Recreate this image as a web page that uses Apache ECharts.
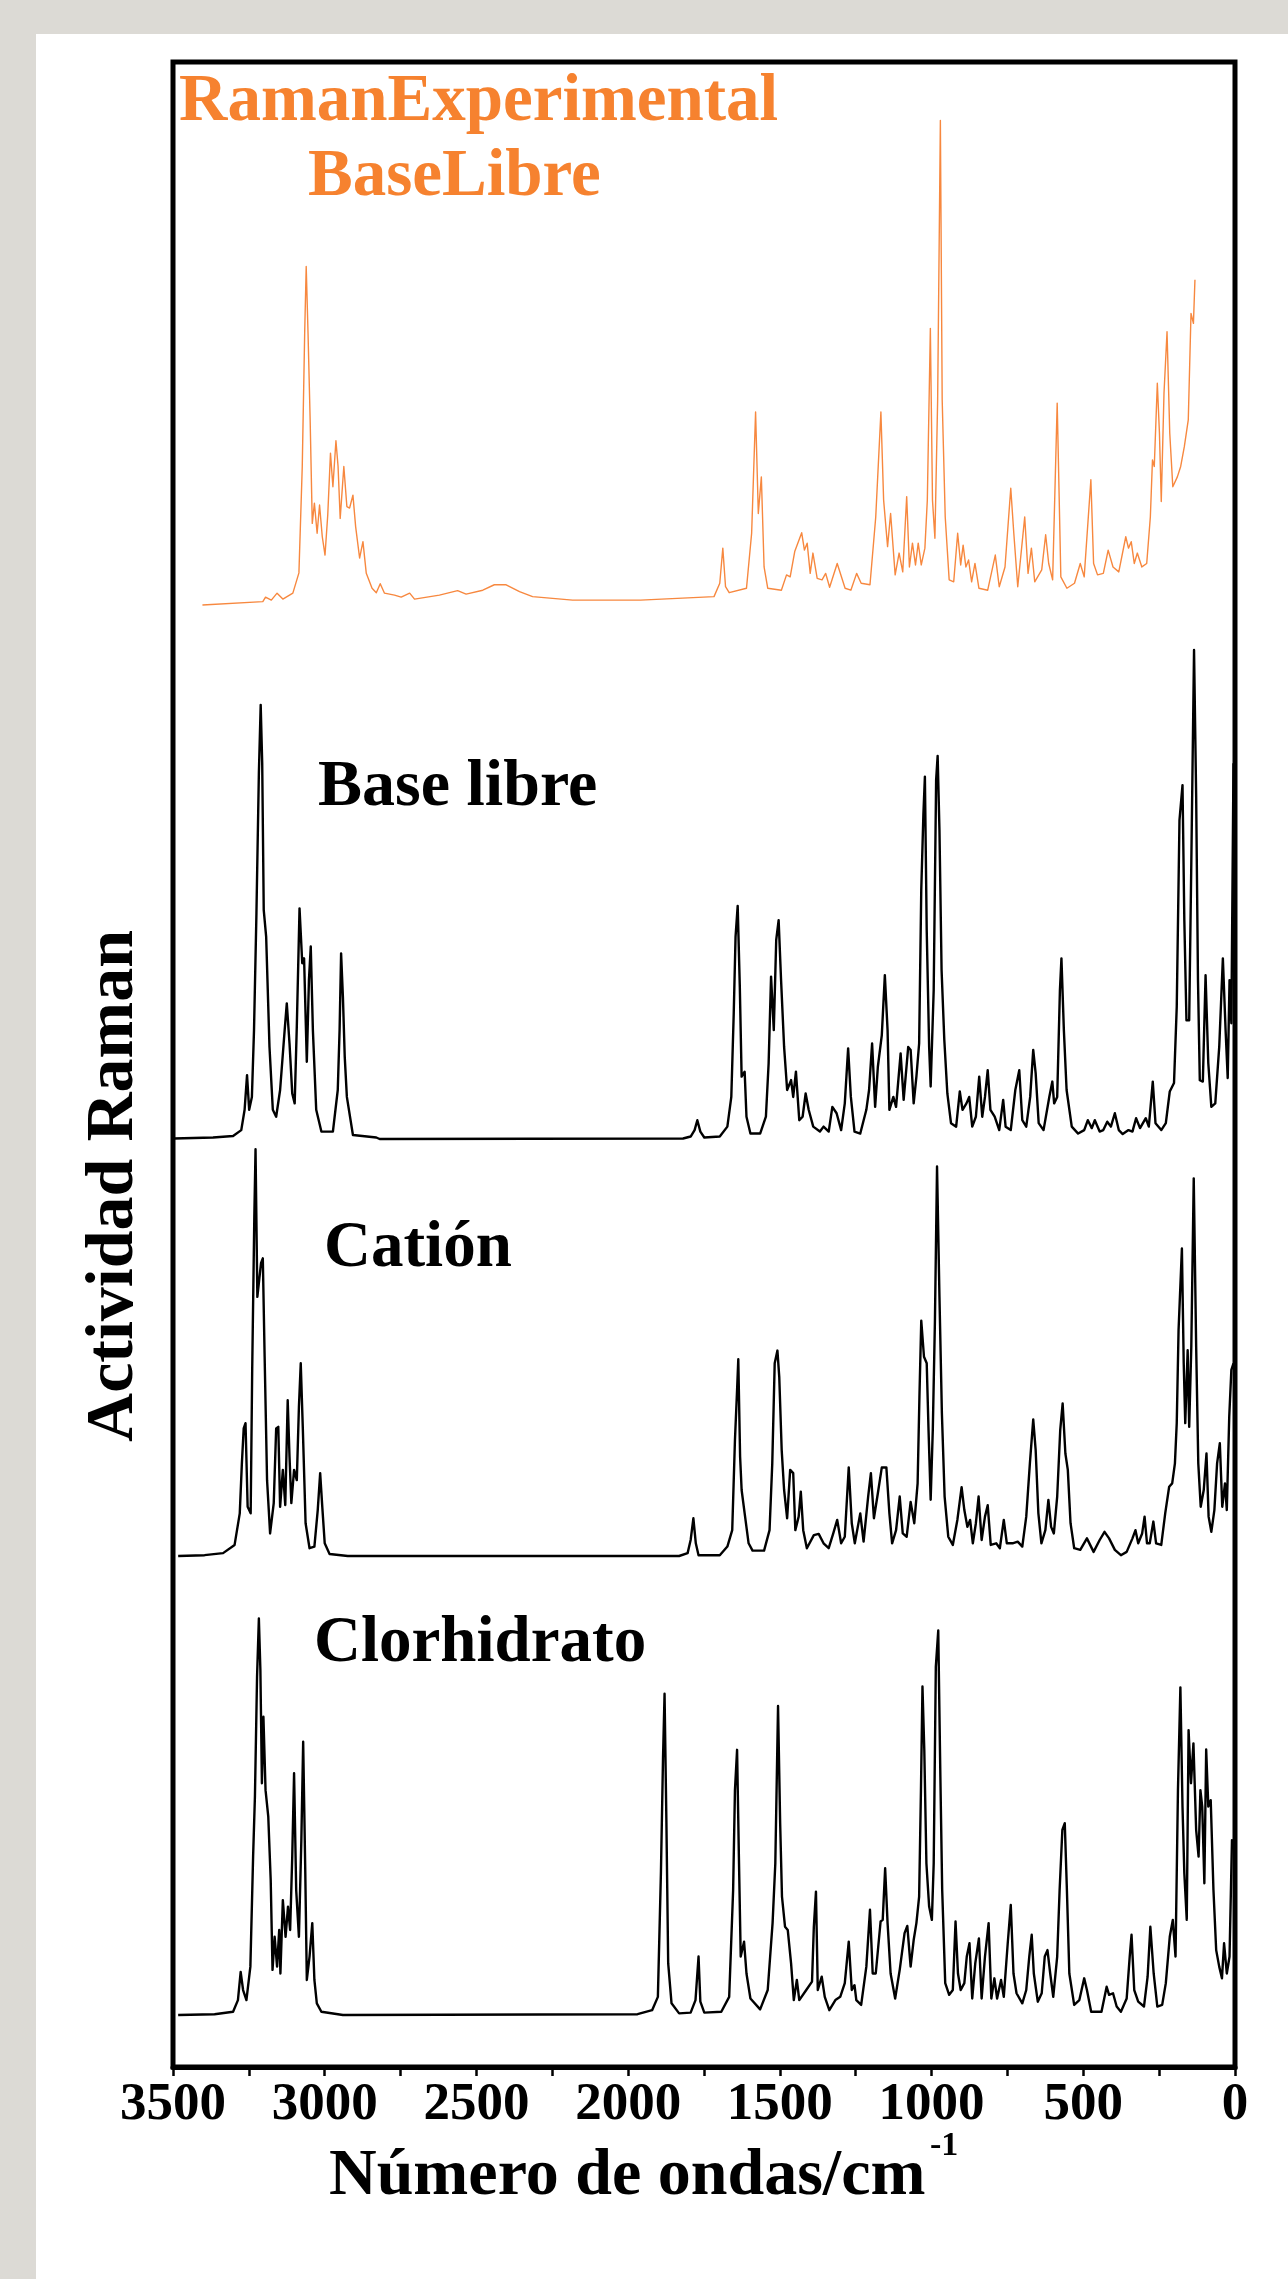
<!DOCTYPE html>
<html>
<head>
<meta charset="utf-8">
<title>Actividad Raman</title>
<script src="https://cdn.jsdelivr.net/npm/echarts@6/dist/echarts.min.js"></script>
<style>
  html, body { margin: 0; padding: 0; background: #dcdad5; }
  #panel { position: absolute; left: 36px; top: 34px; width: 1252px; height: 2245px; background: #fff; }
  #chart { position: absolute; left: 0; top: 0; width: 1288px; height: 2279px; }
</style>
</head>
<body>
<div id="panel"></div>
<div id="chart"></div>
<script>
// eje x: número de ondas (cm-1), invertido
const xRange = [0, 3500];
const xTickStep = 500;

// [número de ondas, intensidad relativa 0-100]
const ramanExperimental = [
  [3403,1.0],[3204,1.7],[3195,2.6],[3176,2.0],[3157,3.4],[3138,2.2],[3105,3.4],[3085,7.5],[3074,29],[3066,56],
  [3061,69.4],[3055,56],[3048,38.4],[3041,17.5],[3034,21.6],[3025,15.5],[3017,21.2],[3008,14.8],[2999,11.1],[2990,19.2],
  [2981,31.7],[2973,24.9],[2963,34.2],[2956,29],[2949,18.5],[2937,29],[2927,20.9],[2918,20.6],[2907,23.2],[2898,16.8],
  [2885,10.5],[2874,13.8],[2863,7.4],[2844,4.4],[2830,3.5],[2817,5.3],[2803,3.4],[2770,3.0],[2748,2.6],[2720,3.4],
  [2704,2.2],[2622,3.0],[2562,3.9],[2534,3.2],[2479,4.0],[2441,5.1],[2402,5.1],[2358,3.7],[2315,2.7],[2183,2.0],
  [1959,2.0],[1717,2.7],[1698,5.4],[1688,12.5],[1679,4.7],[1667,3.5],[1610,4.4],[1593,15.5],[1580,40],[1571,19.5],
  [1561,26.9],[1552,8.7],[1540,4.4],[1495,4.0],[1478,7.1],[1466,6.7],[1451,11.8],[1428,15.6],[1419,12.1],[1410,13.5],
  [1400,7.4],[1391,11.5],[1377,6.4],[1361,6.1],[1349,7.4],[1336,4.6],[1311,9.4],[1285,4.4],[1266,4.0],[1247,7.4],
  [1232,5.4],[1203,5.1],[1184,18.8],[1167,40],[1158,22.2],[1145,12.8],[1135,19.5],[1120,7.1],[1107,11.5],[1095,7.7],
  [1082,22.9],[1073,8.7],[1063,13.5],[1053,9.1],[1044,13.5],[1034,9.1],[1022,12.5],[1014,22.2],[1004,56.9],[997,22.2],
  [989,14.5],[980,42.4],[971,98.9],[965,42.4],[955,18.8],[942,6.1],[927,5.7],[914,15.5],[904,9.1],[896,13.1],
  [887,8.7],[878,10.1],[868,5.7],[857,9.4],[844,4.4],[815,4.0],[790,11.1],[777,4.7],[758,8.7],[739,24.6],
  [729,15.5],[716,4.7],[693,18.8],[682,7.4],[671,12.5],[660,5.7],[637,8.1],[624,15.2],[614,9.4],[601,6.1],
  [586,41.8],[574,6.7],[554,4.4],[529,5.4],[510,9.4],[497,6.7],[475,26.3],[466,9.4],[453,7.1],[434,7.4],
  [418,12.1],[402,8.7],[383,7.7],[360,14.8],[351,12.5],[342,13.8],[332,9.4],[322,11.5],[307,8.7],[291,9.4],
  [279,18.8],[272,30.3],[266,29],[256,45.8],[249,35.7],[243,21.9],[234,43.8],[224,56.2],[215,35.7],[205,24.9],
  [190,26.9],[179,29],[167,33],[154,38.4],[145,59.9],[137,57.9],[132,66.7]
];

const baseLibre = [
  [3497,0.3],[3368,0.5],[3302,0.8],[3275,2.0],[3264,6.1],[3256,13.1],[3249,6.1],[3240,8.7],[3233,22.2],[3225,45.8],
  [3217,74.1],[3211,87.9],[3206,76.1],[3201,46.5],[3193,41.1],[3182,18.8],[3171,6.1],[3160,4.7],[3147,10.1],[3132,22.2],
  [3125,27.6],[3116,19.5],[3107,9.4],[3099,7.4],[3092,22.9],[3083,46.8],[3074,35.7],[3068,36.7],[3059,15.8],[3052,32.3],
  [3046,39.1],[3039,22.2],[3028,6.1],[3011,1.7],[2973,1.7],[2957,10.1],[2951,22.2],[2946,37.7],[2940,28.9],[2934,16.8],
  [2927,8.7],[2907,1.0],[2830,0.5],[2819,0.2],[1819,0.3],[1794,0.7],[1781,2.0],[1772,4.0],[1762,1.7],[1749,0.5],
  [1698,0.7],[1673,2.7],[1660,8.7],[1652,25.6],[1646,41.1],[1639,47.3],[1632,31],[1626,12.8],[1616,13.8],[1610,4.7],
  [1597,1.3],[1565,1.3],[1546,4.7],[1537,15.5],[1529,33],[1520,22.2],[1512,40.4],[1504,44.4],[1496,32.3],[1486,18.8],
  [1476,10.1],[1463,12.1],[1456,8.7],[1447,13.8],[1436,4.0],[1425,4.7],[1415,9.4],[1405,6.1],[1390,2.7],[1368,1.7],
  [1356,2.7],[1339,1.7],[1327,6.7],[1313,5.4],[1298,2.0],[1286,7.4],[1275,18.5],[1266,8.7],[1254,1.7],[1235,1.3],
  [1215,6.1],[1206,10.1],[1196,19.5],[1186,6.7],[1177,14.8],[1164,21.2],[1154,33.3],[1145,22.2],[1139,6.1],[1126,8.7],
  [1117,6.7],[1102,17.5],[1092,8.1],[1077,18.8],[1069,18.2],[1059,7.4],[1050,12.8],[1041,19.5],[1034,50.5],[1027,65.7],
  [1022,73.4],[1016,42.4],[1008,18.8],[1003,10.8],[993,30.3],[985,72.7],[980,77.6],[974,62.6],[967,34.3],[958,20.2],
  [948,9.4],[936,3.4],[919,2.7],[907,9.8],[898,6.1],[885,7.4],[876,8.7],[866,2.7],[854,4.7],[843,12.8],
  [833,4.7],[824,8.7],[815,14.1],[806,6.1],[792,4.7],[777,2.0],[764,8.1],[756,2.7],[739,2.0],[724,10.1],
  [711,14.1],[701,4.0],[688,2.7],[675,8.7],[665,18.2],[657,13.5],[647,3.4],[631,2.0],[612,8.7],[602,11.8],
  [596,7.4],[586,8.7],[577,30.3],[572,36.7],[564,22.2],[555,10.1],[538,2.7],[517,1.3],[497,2.0],[485,4.0],
  [472,2.4],[462,4.0],[446,1.7],[434,2.0],[421,3.7],[409,2.7],[396,5.4],[383,2.0],[370,1.2],[351,2.0],
  [338,1.7],[326,4.4],[313,2.4],[294,4.4],[284,2.7],[271,11.8],[262,3.4],[243,2.0],[228,3.4],[215,9.8],
  [201,11.5],[192,26.9],[183,64.6],[173,71.7],[167,44.4],[160,24.2],[151,24.2],[144,55.9],[135,99],[128,69.4],
  [122,32.3],[116,12.1],[106,11.8],[97,33.3],[88,15.5],[78,6.7],[65,7.4],[52,18.8],[40,36.7],[31,22.2],
  [24,12.5],[18,32.3],[12,23.6],[5,76.1]
];

const cation = [
  [3483,0],[3396,0.2],[3335,0.7],[3297,2.7],[3280,10.4],[3273,22.6],[3267,31.1],[3261,32.4],[3254,12],[3244,10.4],
  [3239,45.4],[3232,82.8],[3228,99.2],[3222,63.2],[3217,63.2],[3210,71.4],[3204,72.6],[3198,48.6],[3190,18.5],[3180,5.5],
  [3168,12.9],[3160,31.1],[3153,31.5],[3147,12],[3138,21],[3130,12.4],[3122,38],[3116,24.2],[3110,12.9],[3101,21],
  [3092,18.5],[3085,36.4],[3079,47],[3072,30.7],[3063,8],[3050,1.9],[3034,2.3],[3023,11.2],[3015,20.2],[3008,12],
  [3000,3.1],[2984,0.5],[2924,0],[1832,0],[1804,0.7],[1794,3.9],[1785,9.2],[1777,3.1],[1768,0.2],[1698,0.2],
  [1673,2.3],[1657,6.3],[1648,28.3],[1641,40.5],[1637,48],[1631,24.2],[1626,16.1],[1616,10.4],[1603,3.1],[1590,1.3],
  [1552,1.3],[1534,6.3],[1525,22.6],[1517,47],[1508,50.1],[1502,43.7],[1494,25.9],[1486,16.1],[1476,9.2],[1466,21],
  [1456,20.2],[1449,6.3],[1438,9.6],[1431,15.7],[1423,6.3],[1411,1.9],[1388,5.1],[1372,5.4],[1356,3.1],[1339,1.9],
  [1324,5.5],[1311,8.8],[1298,3.1],[1286,4.7],[1273,21.6],[1263,8],[1253,3.1],[1235,10.4],[1224,3.5],[1209,14.5],
  [1200,20.2],[1190,9.2],[1177,15.3],[1164,21.6],[1149,21.6],[1139,10.4],[1130,3.1],[1117,6.3],[1105,14.5],[1095,5.5],
  [1082,4.7],[1069,13.2],[1057,8],[1046,17.7],[1040,38.9],[1034,57.4],[1025,48.6],[1016,47],[1010,30.7],[1003,13.7],
  [996,30.7],[989,57.1],[982,95],[974,63.2],[966,34.8],[957,14.5],[945,4.7],[930,2.7],[915,8.8],[901,16.8],
  [892,11.2],[882,7.1],[873,8.8],[864,3.1],[854,8],[845,14.5],[835,3.9],[824,9.6],[815,12.4],[805,2.7],
  [787,3.1],[775,1.9],[762,8.8],[752,3.1],[733,3.1],[716,3.5],[701,2.3],[688,9.6],[676,22.6],[665,33.3],
  [657,25.9],[648,10.4],[638,3.1],[625,6.3],[615,13.7],[606,7.1],[597,5.5],[586,14.5],[576,30.7],[568,37.2],
  [559,25],[551,21],[542,8],[530,1.9],[510,1.5],[488,4.3],[466,1.0],[446,3.9],[430,5.9],[415,4.3],
  [396,1.5],[376,0.2],[357,1.0],[338,4.3],[328,6.3],[319,3.1],[306,5.5],[298,9.6],[290,3.1],[281,3.1],
  [269,8.4],[260,3.1],[243,2.7],[230,10.4],[217,16.9],[207,17.7],[198,22.6],[192,32.4],[186,55.1],[175,75],
  [169,47],[164,32.4],[156,50.2],[151,31.5],[144,51.1],[136,92.1],[128,51.1],[121,22.6],[113,12],[103,16.1],
  [94,25],[87,9.6],[78,5.9],[68,11.2],[59,22.6],[50,27.5],[42,12],[33,17.7],[27,11.2],[19,34],
  [12,45.4],[5,47]
];

const clorhidrato = [
  [3483,0],[3363,0.2],[3302,0.8],[3286,3.7],[3277,10.7],[3269,6.2],[3258,3.7],[3245,12],[3236,39.3],[3230,54.2],
  [3223,83.9],[3217,98.4],[3212,85.6],[3207,57.5],[3202,74],[3195,55.8],[3186,49.2],[3178,33.5],[3172,11.2],[3165,19.4],
  [3157,12],[3150,21.1],[3146,10.3],[3138,28.5],[3129,19.4],[3121,26.9],[3114,21.1],[3107,39.3],[3101,60],[3094,31],
  [3085,19.4],[3077,43.4],[3071,67.8],[3064,35.2],[3059,8.7],[3050,14.5],[3041,22.8],[3034,8.7],[3026,2.9],[3011,0.8],
  [2940,0],[1969,0.2],[1921,1.2],[1902,4.5],[1892,35.2],[1885,64.1],[1880,79.7],[1874,48.4],[1868,12.8],[1857,2.9],
  [1832,0.4],[1794,0.6],[1778,3.7],[1768,14.5],[1762,3.3],[1749,0.6],[1693,0.8],[1667,4.5],[1654,31],[1648,55.8],
  [1641,65.8],[1635,39.3],[1629,14.5],[1618,18.2],[1610,10.3],[1597,4.1],[1565,1.4],[1540,6.2],[1524,22.8],[1515,37.6],
  [1506,76.7],[1499,47.6],[1493,29.4],[1483,21.9],[1474,21.1],[1463,12.8],[1454,3.7],[1444,8.7],[1436,3.7],[1413,6.2],
  [1394,8.3],[1388,21.9],[1381,30.6],[1375,6.2],[1362,9.5],[1352,4.5],[1337,1.2],[1317,3.7],[1301,4.5],[1286,7.9],
  [1273,18.2],[1263,6.2],[1254,7.4],[1248,3.7],[1232,2.5],[1215,12],[1203,26.1],[1194,10.3],[1184,10.3],[1168,23.2],
  [1161,23.6],[1153,36.4],[1145,22.8],[1135,10.3],[1120,4.1],[1105,11.2],[1089,20.3],[1080,22.1],[1069,12],[1059,18.6],
  [1050,22.8],[1041,29.4],[1035,55.8],[1030,81.5],[1024,65.8],[1017,37.6],[1008,26.9],[999,23.6],[993,37.6],[986,86.4],
  [978,95.4],[971,59.1],[965,31],[955,7.9],[942,5],[930,6.2],[921,23.2],[913,10.3],[904,6.2],[892,7.9],
  [884,14.5],[875,17.8],[866,4.1],[856,12.8],[844,19],[835,4.1],[824,14.5],[812,22.8],[803,4.1],[793,9.1],
  [784,4.1],[771,8.7],[762,4.5],[749,17.8],[739,27.3],[730,10.3],[720,5.4],[701,2.9],[688,6.2],[678,14.5],
  [670,19.9],[663,10.3],[650,3.3],[637,5.4],[627,14.5],[618,16.1],[609,10.3],[599,4.5],[586,14.5],[578,31],
  [569,45.9],[561,47.6],[554,31],[546,10.3],[530,2.5],[513,3.7],[497,9.1],[488,6.2],[474,0.8],[440,0.8],
  [423,7],[415,5],[402,5.4],[390,2.1],[376,0.8],[357,4.1],[347,14.5],[341,19.9],[332,6.2],[319,3.3],
  [300,2.1],[288,9.5],[279,21.9],[268,10.3],[256,2.1],[240,2.5],[228,7.9],[215,19.4],[205,23.6],[196,14.5],
  [188,55.8],[180,81.3],[173,51.7],[167,35.2],[159,23.6],[153,70.7],[145,57.5],[137,67.4],[128,45.9],[120,39.3],
  [114,55.8],[108,51.7],[101,32.7],[95,65.9],[88,51.7],[80,53.3],[71,31],[62,16.1],[52,12],[43,9.1],
  [36,17.8],[27,10.3],[18,14.5],[10,43.4],[4,43]
];

const serif = '"Liberation Serif", "Times New Roman", serif';
const orange = '#f6822f';

// marco + 4 paneles apilados (posiciones en px)
const plotLeft = 173, plotRight = 53;
const panels = [
  { data: ramanExperimental, top: 115, height: 495, color: '#f7883f', width: 1.4 },
  { data: baseLibre, top: 645, height: 495, color: '#000', width: 2.4 },
  { data: cation, top: 1146, height: 410, color: '#000', width: 2.4 },
  { data: clorhidrato, top: 1612, height: 403, color: '#000', width: 2.4 }
];

const grids = [{ left: plotLeft, right: plotRight, top: 62, bottom: 212, show: true,
  borderColor: '#000', borderWidth: 5, backgroundColor: 'transparent' }];
const xAxes = [{
  type: 'value', gridIndex: 0, min: xRange[0], max: xRange[1], interval: xTickStep, inverse: true,
  axisLine: { show: true, lineStyle: { color: '#000', width: 5 } },
  axisTick: { show: true, inside: false, length: 9, lineStyle: { color: '#000', width: 2.5 } },
  minorTick: { show: true, splitNumber: 2, length: 9, lineStyle: { color: '#000', width: 2.5 } },
  splitLine: { show: false },
  axisLabel: { color: '#000', fontFamily: serif, fontWeight: 'bold', fontSize: 53, margin: 12,
    formatter: v => String(v) }
}];
const yAxes = [{ type: 'value', gridIndex: 0, show: false }];
const series = [];

panels.forEach((p, i) => {
  const gi = i + 1;
  grids.push({ left: plotLeft, right: plotRight, top: p.top, height: p.height });
  xAxes.push({ type: 'value', gridIndex: gi, min: xRange[0], max: xRange[1], inverse: true, show: false });
  yAxes.push({ type: 'value', gridIndex: gi, min: 0, max: 100, show: false });
  series.push({
    type: 'line', xAxisIndex: gi, yAxisIndex: gi, data: p.data,
    showSymbol: false, smooth: false, clip: false,
    lineStyle: { color: p.color, width: p.width, join: 'round' }
  });
});

function label(text, x, y, size, color) {
  return { type: 'text', x: x, y: y, style: { text: text, fill: color || '#000',
    fontFamily: serif, fontWeight: 'bold', fontSize: size, align: 'left', verticalAlign: 'middle' } };
}

const chart = echarts.init(document.getElementById('chart'));
chart.setOption({
  animation: false,
  backgroundColor: 'transparent',
  grid: grids,
  xAxis: xAxes,
  yAxis: yAxes,
  series: series,
  graphic: [
    label('RamanExperimental', 179, 103, 67, orange),
    label('BaseLibre', 308, 178, 67, orange),
    label('Base libre', 318, 788, 66),
    label('Catión', 324, 1249, 65),
    label('Clorhidrato', 314, 1644, 65),
    label('Número de ondas/cm', 329, 2177, 66),
    label('-1', 930, 2146, 34),
    { type: 'text', x: 114, y: 1186, rotation: Math.PI / 2,
      style: { text: 'Actividad Raman', fill: '#000', fontFamily: serif, fontWeight: 'bold',
        fontSize: 68, align: 'center', verticalAlign: 'middle' } }
  ]
});
</script>
</body>
</html>
